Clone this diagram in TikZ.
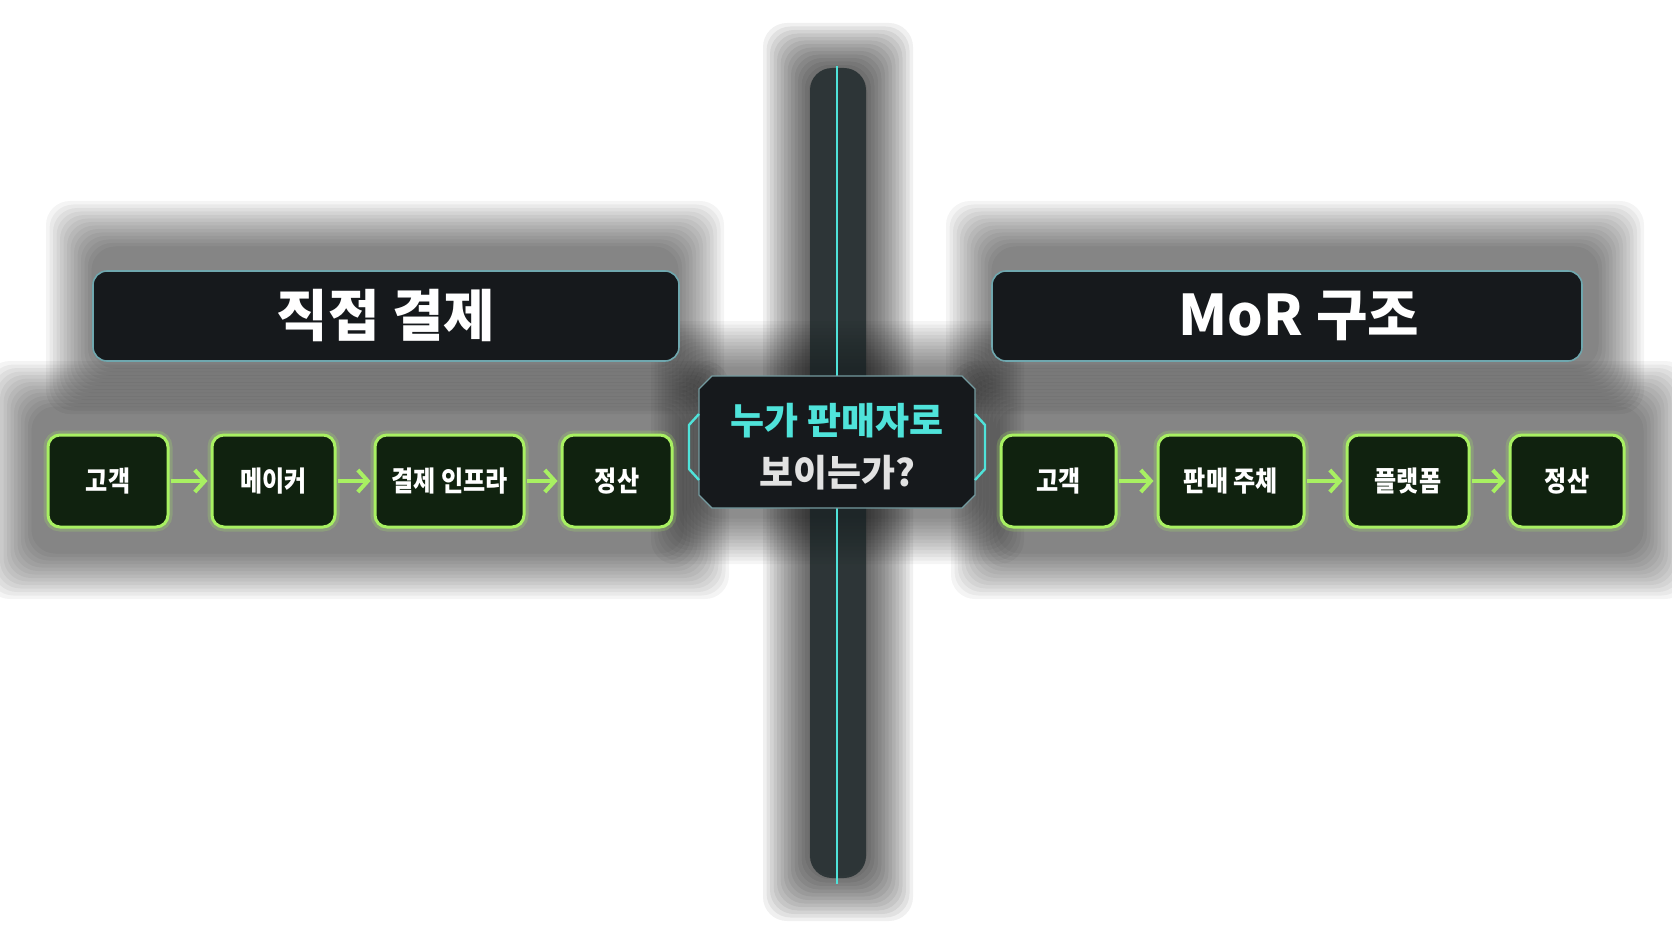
\documentclass[tikz,border=0pt]{standalone}
\usepackage{fontspec}
\setmainfont{Noto Sans CJK KR}
\newfontfamily\krc{Noto Sans CJK KR}[FakeStretch=0.86]
\usetikzlibrary{arrows.meta}
\definecolor{cyanL}{HTML}{4FE3DA}
\definecolor{panelc}{HTML}{16191C}
\definecolor{limec}{HTML}{A8F062}
\definecolor{boxfillc}{HTML}{10220F}
\definecolor{qgray}{HTML}{E2E2E2}
\definecolor{bordc}{HTML}{6FA7AE}
\definecolor{bandc}{HTML}{142022}
\newcommand{\softshadow}[5]{%
  \foreach \k in {1,...,14}{%
    \fill[black,opacity=#5,rounded corners=24pt] ({#1-\k*3.5},{#2-\k*3.5}) rectangle ({#3+\k*3.5},{#4+\k*3.5});}}
\tikzset{
  titlebox/.style={draw=bordc, line width=1.6pt, fill=panelc, rounded corners=14pt,
    minimum height=90pt, text=white, font=\bfseries\fontsize{56}{60}\selectfont, inner sep=0pt},
  flowbox/.style={draw=limec, line width=3pt, fill=boxfillc, rounded corners=12pt,
    minimum height=92pt, text=white, font=\krc\bfseries\fontsize{28}{32}\selectfont, inner sep=0pt},
  glow/.style={draw=limec, line width=9pt, opacity=0.22, rounded corners=12pt},
  flowarrow/.style={draw=limec, line width=4pt, shorten <=1pt, shorten >=3pt,
    -{Straight Barb[length=10pt,width=22pt,line width=4pt]}},
}
\begin{document}
\begin{tikzpicture}[x=1pt,y=-1pt]
\useasboundingbox (0,0) rectangle (1672,941);
\fill[white] (0,0) rectangle (1672,941);
% soft shadows
\softshadow{95}{250}{675}{365}{0.045}
\softshadow{35}{410}{680}{550}{0.045}
\softshadow{995}{250}{1595}{365}{0.045}
\softshadow{1000}{410}{1640}{550}{0.045}
\softshadow{812}{72}{864}{872}{0.06}
\softshadow{700}{370}{975}{515}{0.04}
% vertical band and line
\fill[bandc, opacity=0.7, rounded corners=22pt] (810,68) rectangle (866,878);
\coordinate (vtop) at (837,66);
\coordinate (vbot) at (837,884);
\draw[cyanL, line width=2.2pt] (vtop) -- (vbot);
% titles
\node[titlebox, minimum width=586pt] (tl) at (386,316) {직접 결제};
\node[titlebox, minimum width=590pt] (tr) at (1287,316) {\hspace*{24pt}MoR 구조};
% left flow
\foreach \n/\x/\w/\t in {L1/108/120/고객, L2/273.5/123/메이커, L3/449.5/149/결제 인프라, L4/617/110/정산}{
  \draw[glow] ({\x-\w/2},435) rectangle ({\x+\w/2},527);
  \node[flowbox, minimum width=\w pt] (\n) at (\x,481) {\t};
}
% right flow
\foreach \n/\x/\w/\t in {R1/1058.5/115/고객, R2/1231/146/판매 주체, R3/1408/122/플랫폼, R4/1567/114/정산}{
  \draw[glow] ({\x-\w/2},435) rectangle ({\x+\w/2},527);
  \node[flowbox, minimum width=\w pt] (\n) at (\x,481) {\t};
}
\draw[flowarrow] (L1) -- (L2);
\draw[flowarrow] (L2) -- (L3);
\draw[flowarrow] (L3) -- (L4);
\draw[flowarrow] (R1) -- (R2);
\draw[flowarrow] (R2) -- (R3);
\draw[flowarrow] (R3) -- (R4);
% center question box
\fill[panelc] (712,376) -- (962,376) -- (975,389) -- (975,495) -- (962,508) -- (712,508) -- (699,495) -- (699,389) -- cycle;
\draw[bordc!70!gray, line width=1.2pt] (712,376) -- (962,376) -- (975,389) -- (975,495) -- (962,508) -- (712,508) -- (699,495) -- (699,389) -- cycle;
\draw[cyanL, line width=2.4pt, line join=round] (699,414) -- (689,425) -- (689,469) -- (699,480);
\draw[cyanL, line width=2.4pt, line join=round] (975,414) -- (985,425) -- (985,469) -- (975,480);
\node[font=\bfseries\fontsize{37}{44}\selectfont, text=cyanL, inner sep=0pt] (q1) at (837,421) {누가 판매자로};
\node[font=\bfseries\fontsize{37}{44}\selectfont, text=qgray, inner sep=0pt] (q2) at (837,473) {보이는가?};
\end{tikzpicture}
\end{document}
